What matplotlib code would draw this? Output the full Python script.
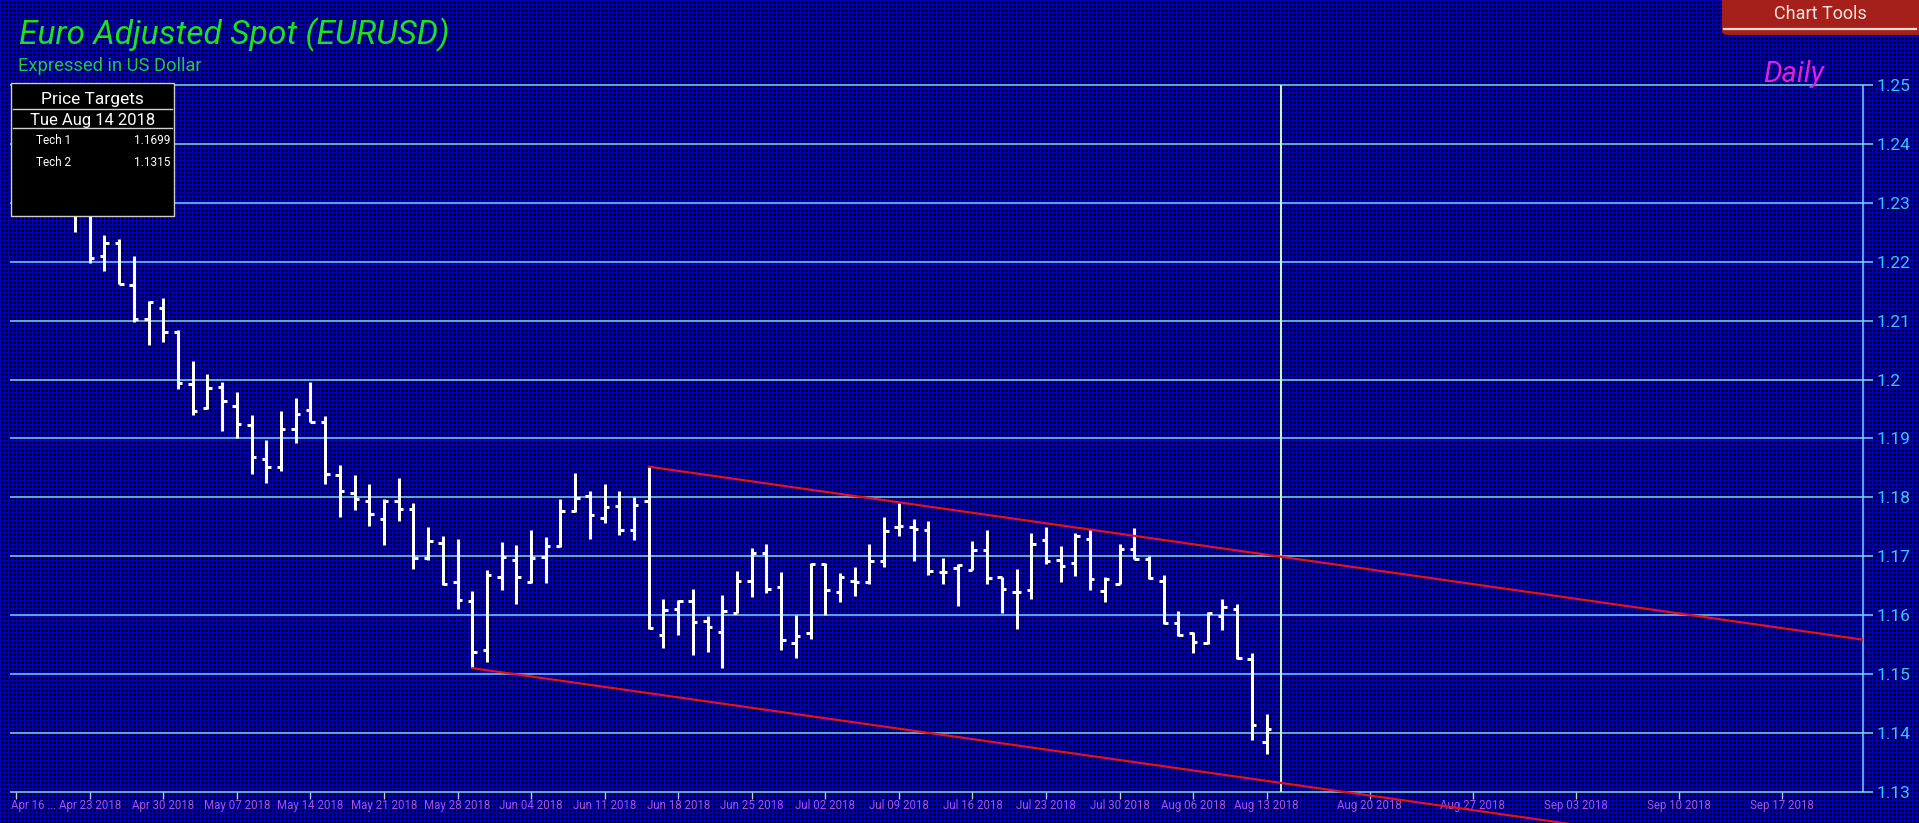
import numpy as np
import matplotlib
matplotlib.use('Agg')
import matplotlib.pyplot as plt
from matplotlib.patches import Rectangle, FancyBboxPatch
from matplotlib.lines import Line2D

plt.rcParams['font.family'] = ['Roboto', 'DejaVu Sans']

### DATA ###
# trading day index (0 = Mon Apr 16 2018), OHLC
bar_idx = list(range(0, 86))
opens = [1.2330, 1.2383, 1.2373, 1.2374, 1.2346, 1.2285, 1.2210, 1.2232, 1.2160, 1.2103,
         1.2121, 1.2080, 1.1993, 1.1951, 1.1988, 1.1955, 1.1923, 1.1865, 1.1852, 1.1916,
         1.1949, 1.1928, 1.1838, 1.1808, 1.1794, 1.1763, 1.1793, 1.1780, 1.1697, 1.1722,
         1.1656, 1.1624, 1.1540, 1.1665, 1.1694, 1.1656, 1.1698, 1.1718, 1.1776, 1.1802,
         1.1765, 1.1785, 1.1745, 1.1793, 1.1567, 1.1610, 1.1624, 1.1590, 1.1572, 1.1604,
         1.1658, 1.1705, 1.1648, 1.1553, 1.1569, 1.1686, 1.1639, 1.1658, 1.1657, 1.1692,
         1.1749, 1.1749, 1.1744, 1.1674, 1.1680, 1.1677, 1.1710, 1.1664, 1.1640, 1.1643,
         1.1728, 1.1694, 1.1688, 1.1729, 1.1641, 1.1653, 1.1712, 1.1696, 1.1658, 1.1587,
         1.1569, 1.1552, 1.1599, 1.1610, 1.1526, 1.1385]
highs = [1.2396, 1.2396, 1.2414, 1.2396, 1.2358, 1.2290, 1.2245, 1.2238, 1.2210, 1.2133,
         1.2138, 1.2084, 1.2032, 1.2010, 1.1995, 1.1979, 1.1940, 1.1898, 1.1947, 1.1969,
         1.1995, 1.1938, 1.1855, 1.1838, 1.1823, 1.1797, 1.1832, 1.1790, 1.1750, 1.1735,
         1.1729, 1.1641, 1.1677, 1.1724, 1.1719, 1.1745, 1.1733, 1.1797, 1.1841, 1.1811,
         1.1822, 1.1810, 1.1801, 1.1852, 1.1627, 1.1625, 1.1645, 1.1599, 1.1634, 1.1675,
         1.1714, 1.1721, 1.1673, 1.1600, 1.1688, 1.1689, 1.1672, 1.1681, 1.1720, 1.1767,
         1.1790, 1.1763, 1.1759, 1.1697, 1.1686, 1.1726, 1.1745, 1.1664, 1.1678, 1.1740,
         1.1749, 1.1718, 1.1740, 1.1746, 1.1664, 1.1720, 1.1748, 1.1701, 1.1668, 1.1607,
         1.1571, 1.1606, 1.1628, 1.1618, 1.1535, 1.1432]
lows = [1.2320, 1.2347, 1.2352, 1.2333, 1.2251, 1.2198, 1.2184, 1.2162, 1.2098, 1.2058,
        1.2064, 1.1984, 1.1940, 1.1950, 1.1912, 1.1901, 1.1839, 1.1824, 1.1844, 1.1892,
        1.1928, 1.1823, 1.1766, 1.1779, 1.1751, 1.1719, 1.1760, 1.1679, 1.1694, 1.1651,
        1.1610, 1.1510, 1.1520, 1.1642, 1.1618, 1.1654, 1.1654, 1.1716, 1.1775, 1.1729,
        1.1756, 1.1736, 1.1728, 1.1577, 1.1544, 1.1566, 1.1533, 1.1538, 1.1510, 1.1603,
        1.1630, 1.1637, 1.1541, 1.1527, 1.1559, 1.1601, 1.1622, 1.1632, 1.1653, 1.1681,
        1.1735, 1.1692, 1.1668, 1.1652, 1.1615, 1.1677, 1.1652, 1.1603, 1.1576, 1.1627,
        1.1686, 1.1657, 1.1666, 1.1643, 1.1622, 1.1653, 1.1696, 1.1661, 1.1585, 1.1564,
        1.1535, 1.1551, 1.1574, 1.1526, 1.1388, 1.1365]
closes = [1.2383, 1.2373, 1.2374, 1.2346, 1.2288, 1.2206, 1.2232, 1.2162, 1.2103, 1.2131,
          1.2081, 1.1994, 1.1947, 1.1985, 1.1964, 1.1924, 1.1868, 1.1852, 1.1916, 1.1941,
          1.1928, 1.1840, 1.1810, 1.1797, 1.1771, 1.1793, 1.1780, 1.1697, 1.1725, 1.1652,
          1.1626, 1.1538, 1.1668, 1.1698, 1.1664, 1.1697, 1.1717, 1.1776, 1.1799, 1.1770,
          1.1784, 1.1745, 1.1787, 1.1578, 1.1609, 1.1624, 1.1589, 1.1580, 1.1607, 1.1658,
          1.1705, 1.1645, 1.1557, 1.1565, 1.1687, 1.1643, 1.1664, 1.1657, 1.1692, 1.1743,
          1.1751, 1.1747, 1.1675, 1.1673, 1.1685, 1.1710, 1.1663, 1.1645, 1.1640, 1.1721,
          1.1692, 1.1684, 1.1734, 1.1662, 1.1662, 1.1712, 1.1696, 1.1663, 1.1586, 1.1566,
          1.1555, 1.1603, 1.1614, 1.1527, 1.1414, 1.1406]

# trend channel anchors (index, price)
upper_line = [(43, 1.1852), (86, 1.1699)]
lower_line = [(31, 1.1510), (86, 1.1315)]
target_idx = 86  # Tue Aug 14 2018

xtick_idx = [0, 5, 10, 15, 20, 25, 30, 35, 40, 45, 50, 55, 60, 65, 70, 75, 80, 85,
             92, 99, 106, 113, 120]
xtick_labels = ['Apr 16 ...', 'Apr 23 2018', 'Apr 30 2018', 'May 07 2018', 'May 14 2018',
                'May 21 2018', 'May 28 2018', 'Jun 04 2018', 'Jun 11 2018', 'Jun 18 2018',
                'Jun 25 2018', 'Jul 02 2018', 'Jul 09 2018', 'Jul 16 2018', 'Jul 23 2018',
                'Jul 30 2018', 'Aug 06 2018', 'Aug 13 2018', 'Aug 20 2018', 'Aug 27 2018',
                'Sep 03 2018', 'Sep 10 2018', 'Sep 17 2018']
ytick_vals = [1.25, 1.24, 1.23, 1.22, 1.21, 1.20, 1.19, 1.18, 1.17, 1.16, 1.15, 1.14, 1.13]
ytick_labels = ['1.25', '1.24', '1.23', '1.22', '1.21', '1.2', '1.19', '1.18', '1.17',
                '1.16', '1.15', '1.14', '1.13']
targets = [('Tech 1', '1.1699'), ('Tech 2', '1.1315')]

### FIGURE ###
W, H = 1919, 823
fig = plt.figure(figsize=(W / 100, H / 100), dpi=100)

def fx(x):
    return x / W

def fy(y):
    return 1 - y / H

# blue mesh background
bg = np.zeros((H, W, 3))
bg[:, :] = (0.0, 0.0, 0.03)
bg[::4, :] = (0.0, 0.0, 0.70)
bg[:, ::4] = (0.0, 0.0, 0.70)
bgax = fig.add_axes([0, 0, 1, 1], zorder=-1)
bgax.imshow(bg, aspect='auto', interpolation='nearest', extent=(0, W, H, 0))
bgax.axis('off')

px_per_cent = 58.9
y_top = 1.25 + 1.8 / px_per_cent * 0.01
y_bot = 1.25 - (H - 85) / px_per_cent * 0.01
ax = fig.add_axes([fx(10), 0, fx(1863 - 10), (H - 83.2) / H])
ax.set_xlim(-0.42, 125.54)
ax.set_ylim(y_bot, y_top)
ax.patch.set_alpha(0)
for s in ax.spines.values():
    s.set_visible(False)

grid_c = '#7ad8f0'
ax.hlines(ytick_vals, -0.42, 125.54, color=grid_c, lw=1.1, zorder=1)
ax.vlines(125.54, 1.13, 1.25, color=grid_c, lw=1.1, zorder=1, clip_on=False)
ax.vlines(target_idx, 1.13, 1.25, color='#c8f0d8', lw=1.5, zorder=2)

ax.yaxis.tick_right()
ax.set_yticks(ytick_vals)
ax.set_yticklabels(ytick_labels)
ax.tick_params(axis='y', length=7, width=1.1, color=grid_c, pad=3,
               labelsize=12.5, labelcolor='#3cc8f5')
ax.set_xticks([])

# x ticks hang below the 1.13 line
step = 0.01 / px_per_cent
ax.vlines(xtick_idx, 1.13 - 7 * step, 1.13, color='#c8c8c8', lw=1, zorder=2)
for i, lab in zip(xtick_idx, xtick_labels):
    ha = 'center'
    xi = i
    if lab.endswith('...'):
        ha = 'left'
        xi = -0.35
    ax.text(xi, 1.13 - 14 * step, lab, ha=ha, va='center', fontsize=8.3,
            color='#a855e8', zorder=3)

# OHLC bars
bar_idx = np.array(bar_idx)
ax.vlines(bar_idx, lows, highs, color='white', lw=2.2, zorder=4)
ax.hlines(opens, bar_idx - 0.3, bar_idx, color='white', lw=2.2, zorder=4)
ax.hlines(closes, bar_idx, bar_idx + 0.3, color='white', lw=2.2, zorder=4)

# channel lines, extended to the right
for (x1, y1), (x2, y2) in [upper_line, lower_line]:
    slope = (y2 - y1) / (x2 - x1)
    x_end = 140
    ax.plot([x1, x_end], [y1, y1 + slope * (x_end - x1)], color='#e3121e', lw=1.6, zorder=5)

### TEXT AND PANELS ###
fig.text(fx(19), fy(44.3), 'Euro Adjusted Spot (EURUSD)', fontsize=24.2, style='italic',
         color='#1ee01e', va='baseline')
fig.text(fx(18), fy(71), 'Expressed in US Dollar', fontsize=13.2, color='#22c944', va='baseline')
fig.text(fx(1763), fy(81.7), 'Daily', fontsize=21, style='italic', color='#e01ee0',
         va='baseline', zorder=6)

# price target box
fig.add_artist(Rectangle((fx(10.7), fy(216)), fx(174.3 - 10.7), (216 - 82.7) / H,
                         facecolor='black', edgecolor='#d0d0d0', lw=1, zorder=10))
fig.text(fx(92.5), fy(104.3), 'Price Targets', fontsize=12.5, color='white', ha='center',
         va='baseline', zorder=11)
fig.add_artist(Line2D([fx(12.7), fx(172)], [fy(109.3), fy(109.3)], color='#d0d0d0', lw=1, zorder=11))
fig.text(fx(92.3), fy(125), 'Tue Aug 14 2018', fontsize=12, color='white', ha='center',
         va='baseline', zorder=11)
fig.add_artist(Line2D([fx(12.7), fx(172)], [fy(128), fy(128)], color='#d0d0d0', lw=1, zorder=11))
for k, (name, val) in enumerate(targets):
    yb = 144.3 + k * 21.7
    fig.text(fx(35.7), fy(yb), name, fontsize=8.5, color='white', va='baseline', zorder=11)
    fig.text(fx(170), fy(yb), val, fontsize=8.5, color='white', ha='right', va='baseline', zorder=11)

# chart tools button
fig.add_artist(FancyBboxPatch((fx(1722), fy(35)), fx(220), 60 / H,
                              boxstyle='round,pad=0,rounding_size=0.004',
                              facecolor='#a5201a', edgecolor='none', zorder=10))
fig.text(fx(1820), fy(19.3), 'Chart Tools', fontsize=13, color='#f4e4dc', ha='center',
         va='baseline', zorder=11)
fig.add_artist(Line2D([fx(1724), fx(1916)], [fy(29.3), fy(29.3)], color='#f0dcd4', lw=1.6, zorder=11))

plt.savefig('out.png', dpi=100)
plt.close()
